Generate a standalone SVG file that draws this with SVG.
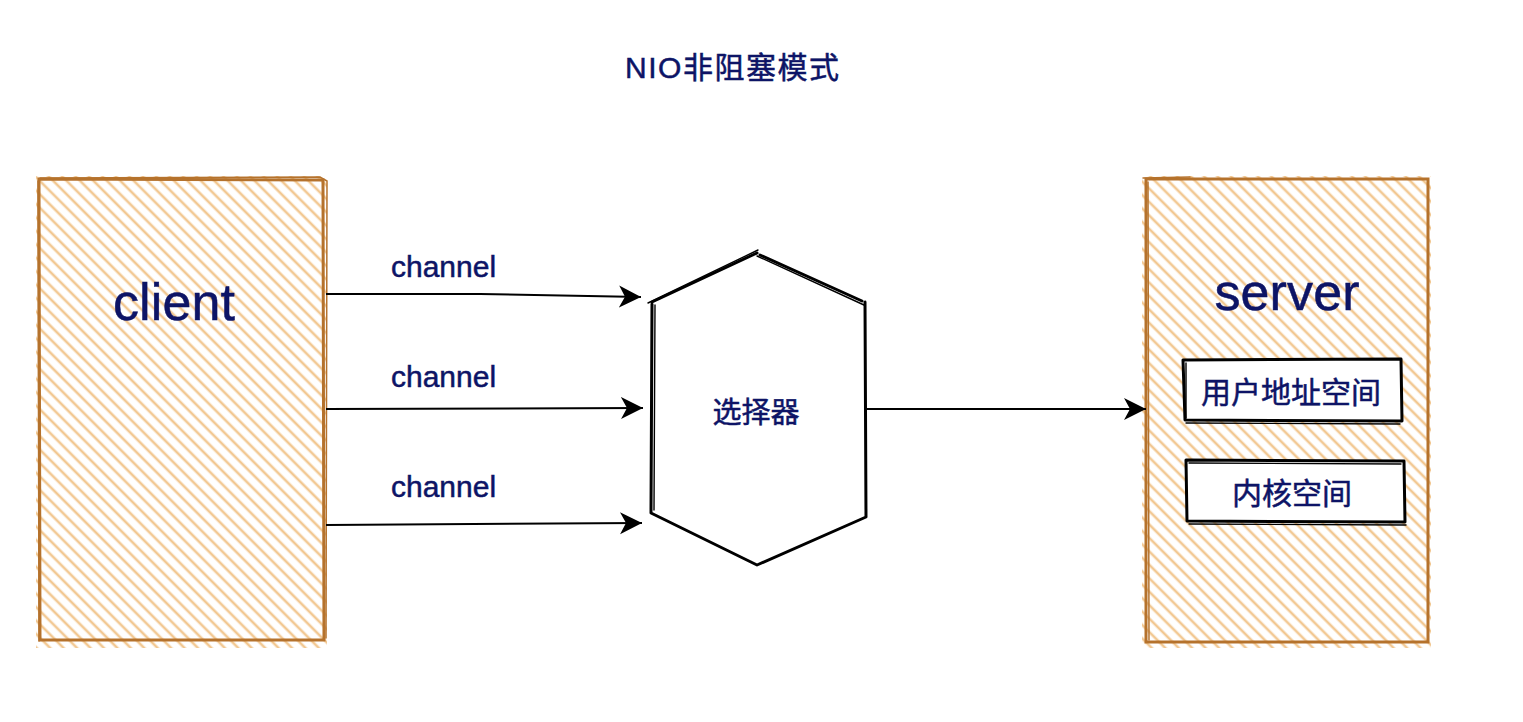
<svg xmlns="http://www.w3.org/2000/svg" width="1523" height="722" viewBox="0 0 1523 722">
<defs>
<pattern id="hatch" patternUnits="userSpaceOnUse" width="9.5" height="9.5" patternTransform="rotate(45)">
<line x1="0" y1="4.75" x2="9.5" y2="4.75" stroke="#f2c892" stroke-width="2.6"/>
</pattern>
<marker id="arrow" markerUnits="userSpaceOnUse" markerWidth="26" markerHeight="24" refX="22" refY="12" orient="auto">
<path d="M0,1 L22,12 L0,23 L6,12 Z" fill="#000"/>
</marker>
</defs>
<style>
.t{font-family:"Liberation Sans","Noto Sans CJK SC",Arial,sans-serif;fill:#0d1466;stroke:#0d1466;stroke-width:0.5;}
.box{fill:url(#hatch);}
.edge{fill:none;stroke:#b5722c;stroke-width:3;stroke-linecap:round;}
.edge2{fill:none;stroke:#b5722c;stroke-width:1.5;stroke-linecap:round;}
.conn{fill:none;stroke:#000;stroke-width:2;}
.ink{fill:none;stroke:#000;stroke-width:3;stroke-linecap:round;stroke-linejoin:round;}
.ink2{fill:none;stroke:#000;stroke-width:1.4;stroke-linecap:round;}
</style>
<rect width="1523" height="722" fill="#fff"/>
<text class="t" x="625" y="78" font-size="30" textLength="214">NIO非阻塞模式</text>

<g id="client">
<rect class="box" x="36" y="176" width="291" height="472"/>
<path class="edge" d="M39,179 L323,180 L324,640 L40,640 Z"/>
<path class="edge2" d="M38,181 L39,641 M40,178 L320,177 L327,181 L326,638"/>
<text class="t" x="113" y="320" font-size="52" textLength="122">client</text>
</g>

<g id="selector">
<path d="M652,302 L757,253 L865,302 L866,517 L757,565 L651,513 Z" fill="#fff"/>
<path class="ink" d="M652,302 L757,253 M760,255 L862,301 M865,302 L866,517 L757,565 L651,513 L652,304"/>
<path class="ink2" d="M648,303 L758,250 M757,256 L864,305 M655,305 L654,510"/>
<text class="t" x="756" y="423" font-size="29" text-anchor="middle">选择器</text>
</g>

<g id="server">
<rect class="box" x="1142" y="176" width="289" height="472"/>
<path class="edge" d="M1146,179 L1428,179 L1428,642 L1146,642 Z"/>
<path class="edge2" d="M1148,182 L1149,640 M1143,178 L1190,177"/>
<text class="t" x="1287" y="310" font-size="52" text-anchor="middle" textLength="145">server</text>
</g>

<g id="user-space">
<rect x="1183" y="360" width="218" height="61" fill="#fff"/>
<path class="ink" d="M1183,360 L1401,359 L1402,421 L1185,420 Z"/>
<path class="ink2" d="M1186,363 L1186,418 M1186,423 L1400,424"/>
<text class="t" x="1291" y="403" font-size="30" text-anchor="middle">用户地址空间</text>
</g>

<g id="kernel-space">
<rect x="1186" y="460" width="218" height="62" fill="#fff"/>
<path class="ink" d="M1186,460 L1404,461 L1405,522 L1187,521 Z"/>
<path class="ink2" d="M1189,463 L1401,464 M1189,524 L1406,525"/>
<text class="t" x="1292" y="504" font-size="30" text-anchor="middle">内核空间</text>
</g>

<g id="connectors">
<path class="conn" d="M326,294 L480,294 L641,297" marker-end="url(#arrow)"/>
<path class="conn" d="M326,409 L643,408" marker-end="url(#arrow)"/>
<path class="conn" d="M326,525 L642,523" marker-end="url(#arrow)"/>
<path class="conn" d="M866,409 L1146,409" marker-end="url(#arrow)"/>
<text class="t" x="391" y="277" font-size="30">channel</text>
<text class="t" x="391" y="387" font-size="30">channel</text>
<text class="t" x="391" y="497" font-size="30">channel</text>
</g>
</svg>
